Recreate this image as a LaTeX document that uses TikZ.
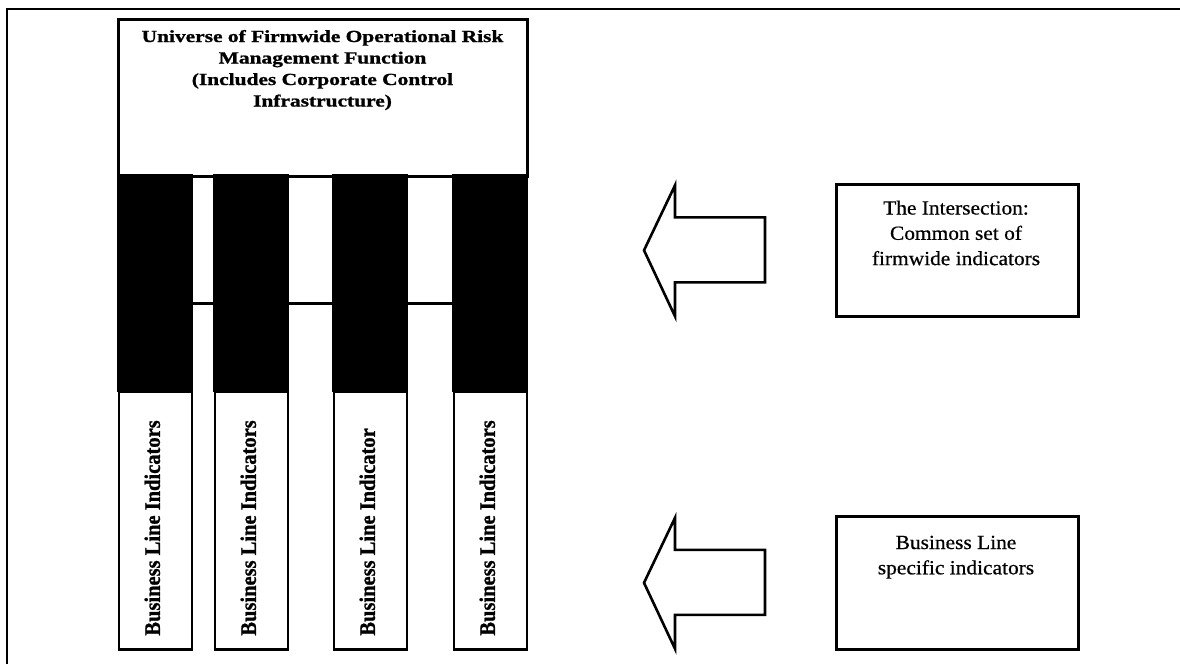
\documentclass[tikz,border=0pt]{standalone}
\usepackage{fontspec}
\setmainfont{Liberation Serif}[UprightFeatures={FakeBold=0.6}, BoldFeatures={FakeBold=1.0}]
\usetikzlibrary{calc}
\newcommand\stacklines[1]{\begin{tabular}[t]{@{}c@{}}#1\end{tabular}}
\begin{document}
\begin{tikzpicture}[x=1pt,y=-1pt,
  frameline/.style={line width=2.6pt},
  box/.style={draw, line width=2.6pt, fill=white, rectangle, inner sep=0pt, anchor=north west},
  band/.style={draw, line width=1.5pt, fill=black, rectangle, inner sep=0pt, anchor=north west,
    minimum width=74pt, minimum height=216pt},
  lowbox/.style={draw, line width=2.8pt, fill=white, rectangle, inner sep=0pt, anchor=north west,
    minimum width=73pt, minimum height=258pt},
  sidebox/.style={draw, line width=2.6pt, fill=white, rectangle, inner sep=0pt, anchor=north west,
    minimum width=242pt, minimum height=132pt},
  titletext/.style={anchor=base, inner sep=0pt, font=\fontsize{17}{21.5}\selectfont\bfseries},
  sidetext/.style={anchor=base, inner sep=0pt, font=\fontsize{20}{25.3}\selectfont},
  vlabel/.style={anchor=base west, rotate=90, inner sep=0pt, font=\fontsize{20.5}{24}\selectfont\bfseries},
  blockarrow/.style={draw, line width=2.6pt, fill=white, line join=miter}
]
\useasboundingbox (0,0) rectangle (1180,664);
\fill[white] (0,0) rectangle (1180,664);

% page frame (top and left edges)
\draw[frameline] (7,664) -- (7,9) -- (1180,9);

% universe box
\node[box, minimum width=409pt, minimum height=157pt] (universe) at (117,18) {};
\node[titletext] (title) at (322.5,42) {\scalebox{1.26}[1]{\stacklines{Universe of Firmwide Operational Risk\\
  Management Function\\(Includes Corporate Control\\Infrastructure)}}};

% dark intersection bands
\node[band] (band1) at (117,174) {};
\node[band] (band2) at (213,174) {};
\node[band] (band3) at (332,174) {};
\node[band] (band4) at (452,174) {};
\draw[line width=2.6pt] ([yshift=-21pt]band1.east) -- ([yshift=-21pt]band4.west);

% business line columns
\node[lowbox] (low1) at (117.5,390) {};
\node[lowbox] (low2) at (213.5,390) {};
\node[lowbox] (low3) at (332.5,390) {};
\node[lowbox] (low4) at (452.5,390) {};
\node[vlabel] (lab1) at ([shift={(4.5pt,15pt)}]low1.south) {\scalebox{1}[1.08]{Business Line Indicators}};
\node[vlabel] (lab2) at ([shift={(4.5pt,15pt)}]low2.south) {\scalebox{1}[1.08]{Business Line Indicators}};
\node[vlabel] (lab3) at ([shift={(4.5pt,15pt)}]low3.south) {\scalebox{1}[1.08]{Business Line Indicator}};
\node[vlabel] (lab4) at ([shift={(4.5pt,15pt)}]low4.south) {\scalebox{1}[1.08]{Business Line Indicators}};

% explanation boxes
\node[sidebox] (isect) at (835,183) {};
\node[sidetext] (isecttext) at (956,214.5) {\scalebox{1.07}[1]{\stacklines{The Intersection:\\Common set of\\firmwide indicators}}};
\node[sidebox, minimum height=133pt] (blspec) at (835,515) {};
\node[sidetext] (blspectext) at (956,549) {\scalebox{1.07}[1]{\stacklines{Business Line\\specific indicators}}};

% block arrows pointing at the columns
\draw[blockarrow] ($(isect.west)+(-70,-33)$) -- ++(-90,0) -- ++(0,-32) -- ++(-31,65) -- ++(31,66)
  -- ++(0,-34) -- ++(90,0) -- cycle;
\draw[blockarrow] ($(blspec.west)+(-70,-33)$) -- ++(-90,0) -- ++(0,-32) -- ++(-31,65) -- ++(31,66)
  -- ++(0,-34) -- ++(90,0) -- cycle;
\end{tikzpicture}
\end{document}
